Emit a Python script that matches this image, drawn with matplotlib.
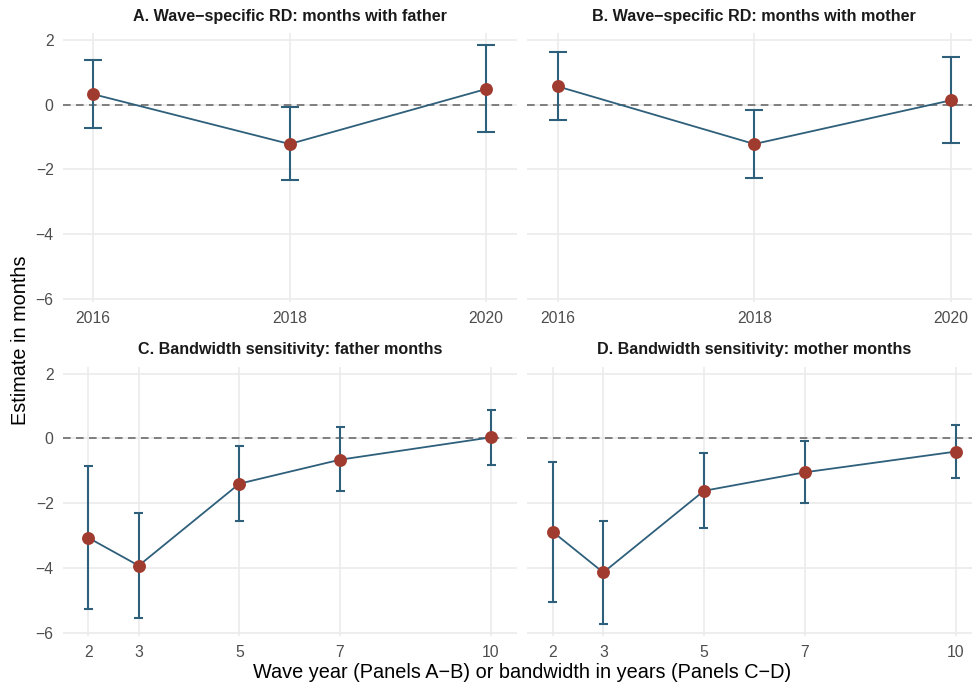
import numpy as np
import matplotlib
matplotlib.use("Agg")
import matplotlib.pyplot as plt

plt.rcParams['font.family'] = ['Liberation Sans', 'DejaVu Sans']

# panel A/B: wave-specific RD
wave_years = [2016, 2018, 2020]
father_wave_est = [0.32, -1.22, 0.48]
father_wave_lo = [-0.74, -2.34, -0.86]
father_wave_hi = [1.39, -0.08, 1.83]
mother_wave_est = [0.56, -1.22, 0.13]
mother_wave_lo = [-0.48, -2.27, -1.20]
mother_wave_hi = [1.61, -0.17, 1.46]

# panel C/D: bandwidth sensitivity
bandwidths = [2, 3, 5, 7, 10]
father_bw_est = [-3.07, -3.93, -1.40, -0.66, 0.03]
father_bw_lo = [-5.27, -5.55, -2.55, -1.64, -0.82]
father_bw_hi = [-0.84, -2.30, -0.23, 0.34, 0.86]
mother_bw_est = [-2.89, -4.14, -1.62, -1.05, -0.41]
mother_bw_lo = [-5.04, -5.73, -2.76, -2.01, -1.23]
mother_bw_hi = [-0.74, -2.54, -0.46, -0.08, 0.41]

titles = ['A. Wave\u2212specific RD: months with father',
          'B. Wave\u2212specific RD: months with mother',
          'C. Bandwidth sensitivity: father months',
          'D. Bandwidth sensitivity: mother months']
y_ticks = [2, 0, -2, -4, -6]

line_col = '#2E5F7B'
point_col = '#A03B2F'
grid_col = '#EBEBEB'
tick_col = '#4D4D4D'

fig = plt.figure(figsize=(9.72, 6.86), dpi=100)

W, H = 972, 686
def px_axes(x0, y0, x1, y1):
    # axes box given in pixel coords (top-left origin)
    return fig.add_axes([x0 / W, 1 - y1 / H, (x1 - x0) / W, (y1 - y0) / H])

axes = [px_axes(62.7, 33, 516.7, 302.3),
        px_axes(527.3, 33, 981.3, 302.3),
        px_axes(62.7, 366.7, 516.7, 636.3),
        px_axes(527.3, 366.7, 981.3, 636.3)]

panels = [(wave_years, father_wave_est, father_wave_lo, father_wave_hi),
          (wave_years, mother_wave_est, mother_wave_lo, mother_wave_hi),
          (bandwidths, father_bw_est, father_bw_lo, father_bw_hi),
          (bandwidths, mother_bw_est, mother_bw_lo, mother_bw_hi)]

cap = 0.09  # half width of errorbar caps, data units
for i, (ax, (x, est, lo, hi)) in enumerate(zip(axes, panels)):
    x = np.array(x, dtype=float)
    span = x.max() - x.min()
    pad = 0.1 + 0.05 * (span + 0.2)
    ax.set_xlim(x.min() - pad, x.max() + pad)
    ax.set_ylim(-6.11, 2.21)
    ax.set_xticks(x)
    ax.set_xticklabels([str(int(v)) for v in x])
    ax.set_yticks(y_ticks)
    for s in ax.spines.values():
        s.set_visible(False)
    ax.grid(True, color=grid_col, linewidth=1.2, zorder=0)
    ax.tick_params(length=0, pad=6.5, labelsize=11.3, colors=tick_col)
    if i % 2 == 1:
        ax.tick_params(labelleft=False)
    ax.axhline(0, color='#606060', linewidth=1.1, linestyle=(0, (5, 3.5)), zorder=1)
    ax.vlines(x, lo, hi, color=line_col, linewidth=1.5, zorder=2)
    ax.hlines(lo, x - cap, x + cap, color=line_col, linewidth=1.5, zorder=2)
    ax.hlines(hi, x - cap, x + cap, color=line_col, linewidth=1.5, zorder=2)
    ax.plot(x, est, color=line_col, linewidth=1.3, zorder=3)
    ax.plot(x, est, 'o', color=point_col, markersize=9.3, markeredgewidth=0, zorder=4)
    ax.set_title(titles[i], fontsize=11.6, fontweight='bold', color='#1A1A1A', pad=9)
    ax.set_axisbelow(True)

fig.text(522 / W, 1 - 673 / H, 'Wave year (Panels A\u2212B) or bandwidth in years (Panels C\u2212D)',
         ha='center', va='center', fontsize=14.3)
fig.text(20 / W, 1 - 340 / H, 'Estimate in months', rotation=90,
         ha='center', va='center', fontsize=14.3)

fig.savefig('out.png', dpi=100)
